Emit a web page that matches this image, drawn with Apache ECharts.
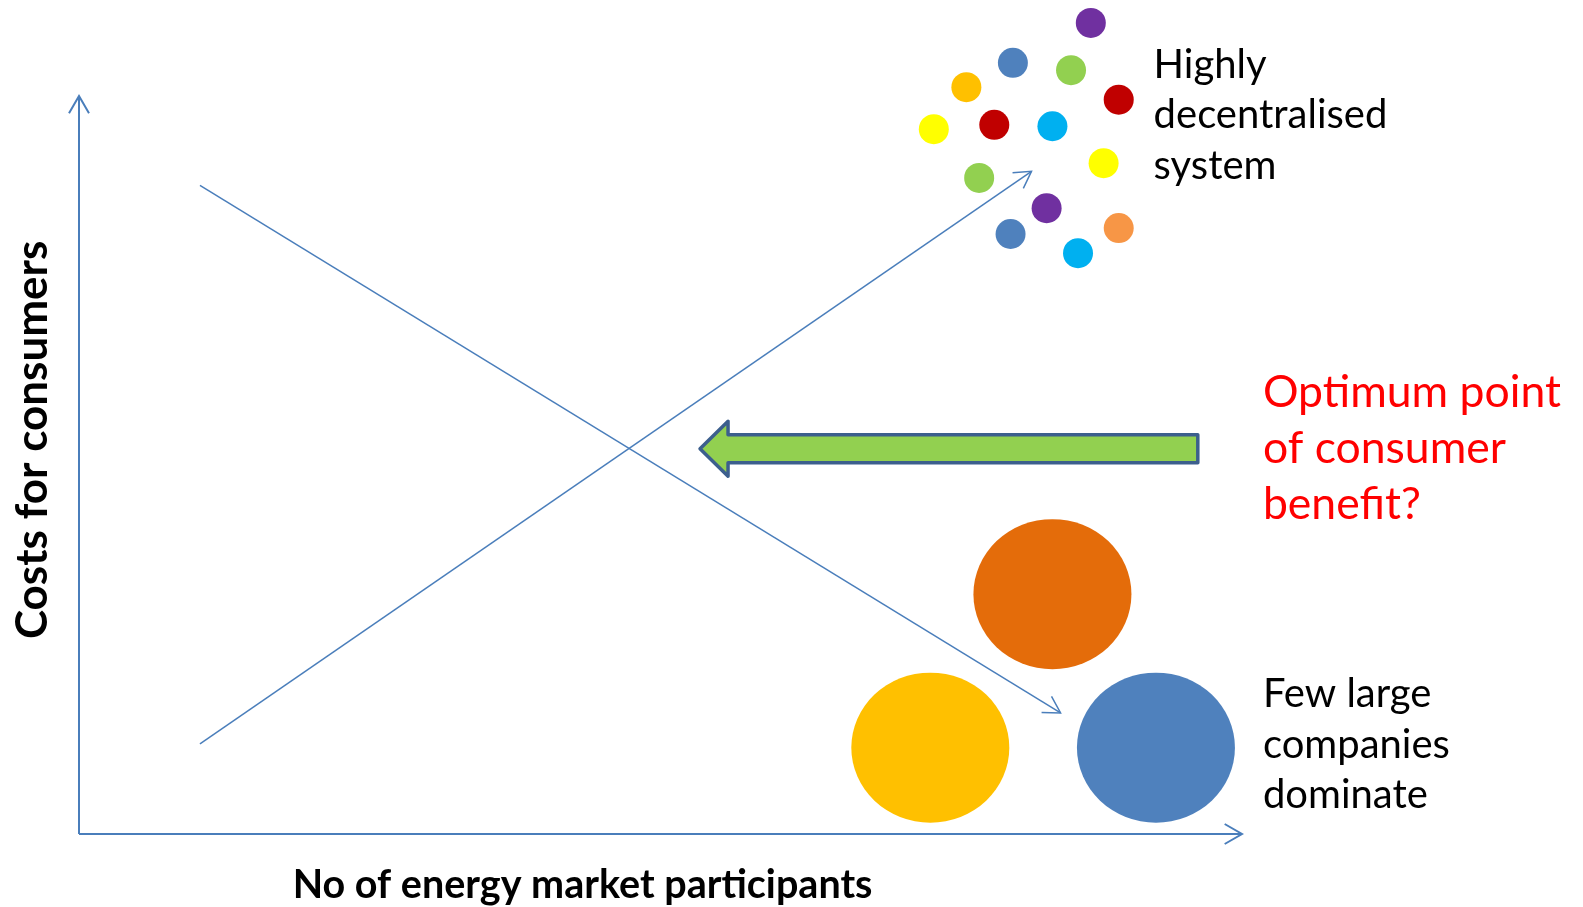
<!DOCTYPE html>
<html><head><meta charset="utf-8">
<script src="https://cdn.jsdelivr.net/npm/echarts@6/dist/echarts.min.js"></script>
<style>html,body{margin:0;padding:0;background:#fff}#c{width:1583px;height:907px}</style>
</head><body><div id="c"></div>
<script>
// ---- data (chart units: x = no. of participants, y = cost, both 0..100) ----
const xRange = [0, 100];
const yRange = [0, 100];
const xTitle = 'No of energy market participants';
const yTitle = 'Costs for consumers';
const titleX = [43.3, -4.0];
const titleY = [-6.9, 53.4];

// axis arrows [x1, y1, x2, y2]
const axisArrows = [[0, 0, 100, 0], [0, 0, 0, 100]];
// trend lines [x1, y1, x2, y2] start -> arrow end
const costLine = [10.4, 87.9, 84.4, 16.4];
const participantsLine = [10.4, 12.2, 81.9, 89.8];

// many small participants
const dotX = [87.0, 80.3, 85.3, 76.3, 89.4, 73.5, 78.7, 83.7, 88.1, 77.4, 83.2, 80.1, 89.4, 85.9];
const dotY = [109.9, 104.5, 103.5, 101.2, 99.5, 95.5, 96.1, 95.9, 90.9, 88.9, 84.8, 81.3, 82.1, 78.7];
const dotColor = ['#7030a0', '#4f81bd', '#92d050', '#ffc000', '#c00000', '#ffff00', '#c00000',
                  '#00b0f0', '#ffff00', '#92d050', '#7030a0', '#4f81bd', '#f79646', '#00b0f0'];

// few large companies
const bigX = [83.7, 73.2, 92.6];
const bigY = [32.5, 11.7, 11.7];
const bigColor = ['#e46c0a', '#ffc000', '#4f81bd'];

// optimum arrow [tailX, tailY, tipX, tipY]
const optimumArrow = [96.2, 52.2, 53.4, 52.2];

// annotations
const labelTexts = ['Highly\ndecentralised\nsystem', 'Optimum point\nof consumer\nbenefit?', 'Few large\ncompanies\ndominate'];
const labelX = [92.4, 101.8, 101.8];
const labelY = [97.4, 52.2, 12.1];
const labelColor = ['#000000', '#ff0000', '#000000'];

// ---- chart ----
const FONT = 'Lato, "Open Sans", sans-serif';
const LINE_COLOR = '#4a7ebb';

function openArrow(width, headLen) {
  return function (params, api) {
    const p1 = api.coord([api.value(0), api.value(1)]);
    const p2 = api.coord([api.value(2), api.value(3)]);
    const ang = Math.atan2(p2[1] - p1[1], p2[0] - p1[0]);
    const spread = Math.PI / 6;
    const h1 = [p2[0] - headLen * Math.cos(ang - spread), p2[1] - headLen * Math.sin(ang - spread)];
    const h2 = [p2[0] - headLen * Math.cos(ang + spread), p2[1] - headLen * Math.sin(ang + spread)];
    const st = { stroke: LINE_COLOR, lineWidth: width, fill: null, lineJoin: 'miter' };
    return {
      type: 'group',
      children: [
        { type: 'line', shape: { x1: p1[0], y1: p1[1], x2: p2[0], y2: p2[1] }, style: st },
        { type: 'polyline', shape: { points: [h1, p2, h2] }, style: st }
      ]
    };
  };
}

const chart = echarts.init(document.getElementById('c'), null, { renderer: 'canvas' });
chart.setOption({
  backgroundColor: '#ffffff',
  animation: false,
  grid: { left: 79, right: 341, top: 96, bottom: 73 },
  xAxis: { type: 'value', min: xRange[0], max: xRange[1], show: false },
  yAxis: { type: 'value', min: yRange[0], max: yRange[1], show: false },
  series: [
    {
      type: 'custom', name: 'axes', clip: false, silent: true,
      renderItem: openArrow(2, 20),
      data: axisArrows
    },
    {
      type: 'custom', name: 'trends', clip: false, silent: true,
      renderItem: openArrow(1.5, 19),
      data: [costLine, participantsLine]
    },
    {
      type: 'scatter', name: 'small', clip: false, silent: true,
      symbol: 'circle', symbolSize: 30,
      data: dotX.map((x, i) => ({ value: [x, dotY[i]], itemStyle: { color: dotColor[i], opacity: 1 } }))
    },
    {
      type: 'scatter', name: 'large', clip: false, silent: true,
      symbol: 'circle', symbolSize: [158, 150],
      data: bigX.map((x, i) => ({ value: [x, bigY[i]], itemStyle: { color: bigColor[i], opacity: 1 } }))
    },
    {
      type: 'custom', name: 'optimum', clip: false, silent: true,
      renderItem: function (params, api) {
        const tail = api.coord([api.value(0), api.value(1)]);
        const tip = api.coord([api.value(2), api.value(3)]);
        const bh = 14, hh = 27.5, hl = 28;
        const y = tip[1];
        const pts = [
          [tip[0], y], [tip[0] + hl, y - hh], [tip[0] + hl, y - bh], [tail[0], y - bh],
          [tail[0], y + bh], [tip[0] + hl, y + bh], [tip[0] + hl, y + hh]
        ];
        return {
          type: 'polygon', shape: { points: pts },
          style: { fill: '#92d050', stroke: '#3c5f8d', lineWidth: 3.5, lineJoin: 'round' }
        };
      },
      data: [optimumArrow]
    },
    {
      type: 'custom', name: 'labels', clip: false, silent: true,
      renderItem: function (params, api) {
        const i = params.dataIndex;
        const p = api.coord([api.value(0), api.value(1)]);
        const big = i === 1;
        return {
          type: 'text', x: p[0], y: p[1],
          style: {
            text: labelTexts[i], fill: labelColor[i],
            font: (big ? '44.5px ' : '40px ') + FONT,
            lineHeight: big ? 56 : 50.5,
            align: 'left', verticalAlign: 'middle'
          }
        };
      },
      data: labelX.map((x, i) => [x, labelY[i]])
    },
    {
      type: 'custom', name: 'titles', clip: false, silent: true,
      renderItem: function (params, api) {
        const i = params.dataIndex;
        const p = api.coord([api.value(0), api.value(1)]);
        return {
          type: 'text', x: p[0], y: p[1], rotation: i === 1 ? Math.PI / 2 : 0,
          style: {
            text: i === 0 ? xTitle : yTitle, fill: '#000000',
            font: (i === 0 ? 'bold 39.5px ' : 'bold 44px ') + FONT,
            align: 'center', verticalAlign: 'middle'
          }
        };
      },
      data: titleX.map((x, i) => [x, titleY[i]])
    }
  ]
});
</script>
</body></html>
